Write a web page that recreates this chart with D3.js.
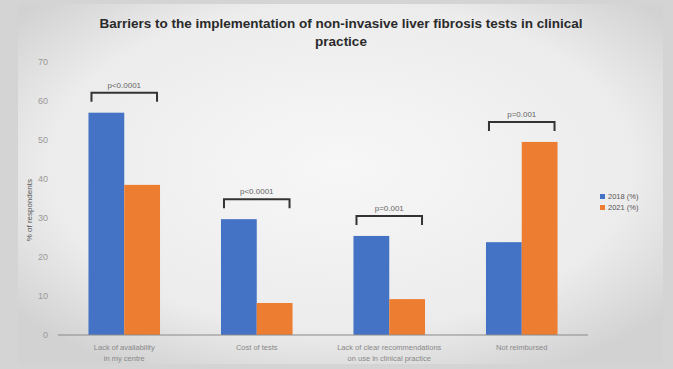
<!DOCTYPE html>
<html>
<head>
<meta charset="utf-8">
<script src="https://cdn.jsdelivr.net/npm/d3@7"></script>
<style>
  body { margin: 0; background: #d6d6d6; }
  svg { display: block; font-family: "Liberation Sans", Arial, sans-serif; }
</style>
</head>
<body>
<script>
const width = 673;
const height = 369;
const margin = {top: 62, left: 58, bottom: 34, right: 85};

const categories = [
  ['Lack of availability', 'in my centre'],
  ['Cost of tests', ''],
  ['Lack of clear recommendations', 'on use in clinical practice'],
  ['Not reimbursed', '']
];
const series = ['2018 (%)', '2021 (%)'];
const values2018 = [57, 29.7, 25.4, 23.8];
const values2021 = [38.5, 8.2, 9.2, 49.5];
const pLabels = ['p<0.0001', 'p<0.0001', 'p=0.001', 'p=0.001'];
const yTicks = [0, 10, 20, 30, 40, 50, 60, 70];
const colors = ['#4472c4', '#ed7d31'];

const data = categories.map((c, i) => ({
  cat: c, idx: i, vals: [values2018[i], values2021[i]], p: pLabels[i]
}));

const svg = d3.select('body').append('svg')
  .attr('width', width).attr('height', height);

// slide background
const defs = svg.append('defs');
const grad = defs.append('radialGradient').attr('id', 'bg')
  .attr('cx', '50%').attr('cy', '45%').attr('r', '65%');
grad.append('stop').attr('offset', '0%').attr('stop-color', '#f7f7f7');
grad.append('stop').attr('offset', '70%').attr('stop-color', '#ececec');
grad.append('stop').attr('offset', '100%').attr('stop-color', '#d2d2d2');
svg.append('rect').attr('width', width).attr('height', height).attr('fill', '#d4d4d4');
svg.append('rect').attr('x', 18).attr('y', 4).attr('width', 645).attr('height', 360)
  .attr('fill', 'url(#bg)');

const x = d3.scaleBand()
  .domain(data.map(d => d.idx))
  .range([margin.left, width - margin.right])
  .paddingInner(0.46).paddingOuter(0.23);

const xs = d3.scaleBand()
  .domain([0, 1])
  .range([0, x.bandwidth()]);

const y = d3.scaleLinear()
  .domain([0, 70])
  .range([height - margin.bottom, margin.top]);

// y axis (labels only)
svg.append('g')
  .attr('transform', `translate(${margin.left}, 0)`)
  .call(d3.axisLeft(y).tickValues(yTicks).tickSize(0).tickPadding(10))
  .call(g => g.select('.domain').remove())
  .call(g => g.selectAll('text').attr('fill', '#999').attr('font-size', 9));

// bars
const groups = svg.append('g').selectAll('g').data(data).enter().append('g')
  .attr('transform', d => `translate(${x(d.idx)}, 0)`);

groups.selectAll('rect').data(d => d.vals).enter().append('rect')
  .attr('x', (v, i) => xs(i))
  .attr('y', v => y(v))
  .attr('width', xs.bandwidth())
  .attr('height', v => y(0) - y(v))
  .attr('fill', (v, i) => colors[i]);

// baseline
svg.append('line')
  .attr('x1', margin.left).attr('x2', width - margin.right)
  .attr('y1', y(0)).attr('y2', y(0))
  .attr('stroke', '#8a8a8a').attr('stroke-width', 1.2);

// significance brackets
groups.each(function(d) {
  const g = d3.select(this);
  const top = y(d3.max(d.vals)) - 20;
  const x1 = xs(0) + 3, x2 = xs(1) + xs.bandwidth() - 3;
  g.append('path')
    .attr('d', `M${x1},${top + 9}V${top}H${x2}V${top + 9}`)
    .attr('fill', 'none').attr('stroke', '#333').attr('stroke-width', 2);
  g.append('text')
    .attr('x', x.bandwidth() / 2).attr('y', top - 5)
    .attr('text-anchor', 'middle').attr('font-size', 8).attr('fill', '#666')
    .text(d.p);
});

// category labels
groups.each(function(d) {
  const g = d3.select(this);
  d.cat.forEach((line, k) => {
    g.append('text')
      .attr('x', x.bandwidth() / 2).attr('y', y(0) + 15 + k * 11)
      .attr('text-anchor', 'middle').attr('font-size', 7.5).attr('fill', '#888')
      .text(line);
  });
});

// y axis title
svg.append('text')
  .attr('transform', `translate(32, ${y(32)}) rotate(-90)`)
  .attr('text-anchor', 'middle').attr('font-size', 8).attr('fill', '#555')
  .text('% of respondents');

// title
const title = ['Barriers to the implementation of non-invasive liver fibrosis tests in clinical', 'practice'];
svg.append('g').selectAll('text').data(title).enter().append('text')
  .attr('x', 341).attr('y', (t, i) => 28 + i * 18)
  .attr('text-anchor', 'middle').attr('font-size', 13.5).attr('font-weight', 'bold')
  .attr('fill', '#2a2a2a')
  .text(t => t);

// legend
const legend = svg.append('g').attr('transform', 'translate(600, 198)')
  .selectAll('g').data(series).enter().append('g')
  .attr('transform', (s, i) => `translate(0, ${i * 11})`);
legend.append('rect').attr('width', 5).attr('height', 5).attr('y', -4)
  .attr('fill', (s, i) => colors[i]);
legend.append('text').attr('x', 8).attr('y', 1)
  .attr('font-size', 7.5).attr('fill', '#555').text(s => s);
</script>
</body>
</html>
